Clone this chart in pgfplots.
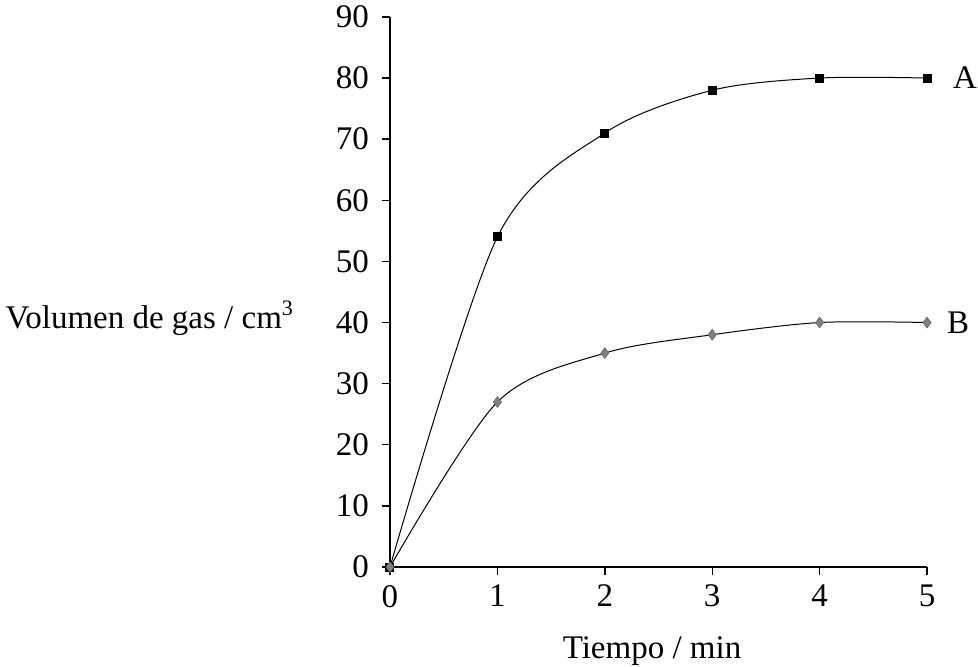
\documentclass[border=0pt]{standalone}
\usepackage{pgfplots}
\pgfplotsset{compat=1.18}
\usepackage{fontspec}
\setmainfont{Liberation Serif}
\definecolor{bgray}{RGB}{128,128,128}
\definecolor{bgrayd}{RGB}{100,100,100}
\begin{document}
\begin{tikzpicture}[font=\fontsize{16.5}{19}\selectfont]
\useasboundingbox (-195pt,-49.5pt) rectangle (294pt,283.5pt);
\begin{axis}[
  x=53.7pt, y=3.056pt,
  xmin=0, xmax=5, ymin=0, ymax=90,
  axis lines=left,
  axis line style={-, line width=0.7pt},
  xtick={0,1,2,3,4,5},
  ytick={0,10,20,30,40,50,60,70,80,90},
  tick align=outside,
  major tick length=4pt,
  tick style={black, line width=0.7pt},
  /pgf/number format/assume math mode=true,
  xticklabel style={yshift=-1.5pt},
  yticklabel style={xshift=-3pt},
  clip=false,
]
\addplot[black, line width=0.5pt, smooth, mark=square*, mark size=2pt,
  mark options={fill=black, draw=black}]
  coordinates {(0,0) (1,54) (2,71) (3,78) (4,80) (5,80)};
\addplot[black, line width=0.5pt, smooth, mark=diamond*, mark size=2.7pt,
  mark options={fill=bgray, draw=bgrayd, line width=0.3pt}]
  coordinates {(0,0) (1,27) (2,35) (3,38) (4,40) (5,40)};
\node[anchor=west] at (axis cs:5,80) [xshift=9.5pt] {A};
\node[anchor=west] at (axis cs:5,40) [xshift=6.5pt] {B};
\node[anchor=east] at (axis cs:0,40) [xshift=-44.5pt, yshift=2pt] {Volumen de gas / cm\textsuperscript{\fontsize{11}{12}\selectfont 3}};
\node at (axis cs:2.44,0) [yshift=-42pt] {Tiempo / min};
\end{axis}
\end{tikzpicture}
\end{document}
